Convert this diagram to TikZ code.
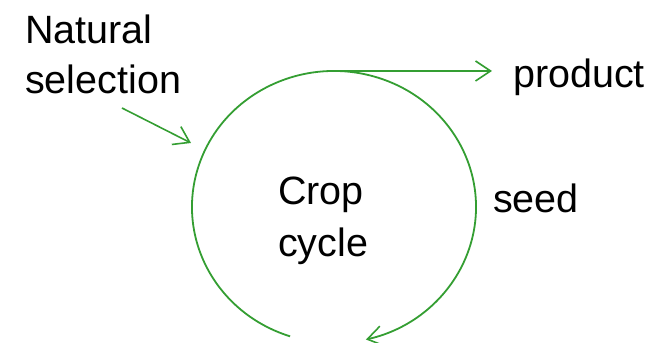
\documentclass[tikz,border=0pt]{standalone}
\usepackage{fontspec}
\setmainfont{Liberation Sans}
\usetikzlibrary{arrows.meta,calc}
\definecolor{cyclegreen}{RGB}{52,158,50}
\begin{document}
\begin{tikzpicture}[x=1pt,y=1pt,
  lbl/.style={inner sep=0pt,anchor=base west,font=\fontsize{39.5}{48}\selectfont},
  gline/.style={draw=cyclegreen,line width=1.8pt},
  barb/.style={-{Straight Barb[length=15pt,width=20pt,line width=1.6pt]}}]
\useasboundingbox (0,0) rectangle (657,343);
% text
\node[lbl] (natural) at (25,299) {Natural};
\node[lbl] (selection) at (25,249) {selection};
\node[lbl] (product) at (513,255) {product};
\node[lbl] (seed) at (493,130) {seed};
\node[lbl] (crop) at (278,138) {Crop};
\node[lbl] (cycle) at (278,86) {cycle};
% cycle arc
\coordinate (center) at (334,136);
\coordinate (arcstart) at ($(center)+(252:142 and 136)$);
\coordinate (top) at (334,272);
\coordinate (prodend) at (492,272);
\coordinate (nsstart) at (122,235);
\coordinate (nsend) at (191,200);
\draw[gline,barb] (arcstart) arc[start angle=252,end angle=-77,x radius=142,y radius=136];
\draw[gline,line width=1.6pt,barb] (top) -- (prodend);
\draw[gline,line width=1.6pt,barb] (nsstart) -- (nsend);
\end{tikzpicture}
\end{document}
